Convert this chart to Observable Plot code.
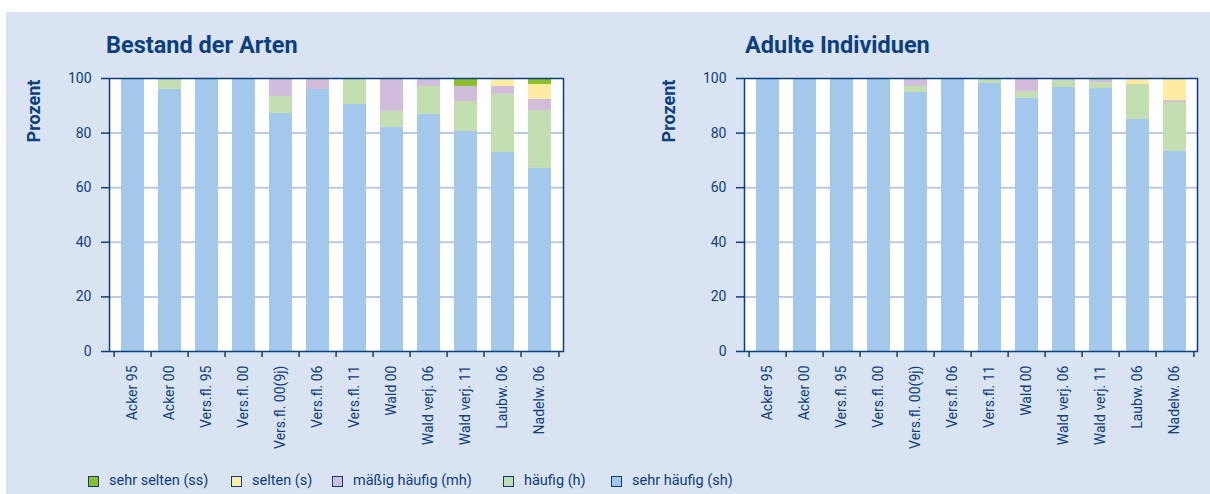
<!DOCTYPE html>
<html>
<head>
<meta charset="utf-8">
<script src="https://cdn.jsdelivr.net/npm/d3@7"></script>
<script src="https://cdn.jsdelivr.net/npm/@observablehq/plot@0.6"></script>
<style>
  html, body { margin: 0; padding: 0; background: #ffffff; width: 1210px; height: 494px; overflow: hidden; }
  body { position: relative; font-family: Roboto, "Open Sans", sans-serif; }
  #panel { position: absolute; left: 6px; top: 12px; width: 1204px; height: 482px; background: #d9e3f1; }
  .title { position: absolute; top: 31px; font-weight: bold; font-size: 23.5px; line-height: 28px; color: #0b3f7e; white-space: nowrap; }
  .chart { position: absolute; top: 0; }
  #legend { position: absolute; left: 88px; top: 471px; font-size: 14.5px; line-height: 20px; color: #0b3f7e; white-space: nowrap; }
  #legend .item { display: flex; align-items: center; position: absolute; top: 0; height: 20px; }
  #legend .sw { width: 9px; height: 9px; border: 1px solid #0b3f7e; margin-right: 10px; box-sizing: content-box; }
</style>
</head>
<body>
<div id="panel"></div>
<div class="title" style="left:106px">Bestand der Arten</div>
<div class="title" style="left:745px">Adulte Individuen</div>
<div class="chart" id="left" style="left:0px"></div>
<div class="chart" id="right" style="left:605px"></div>
<div id="legend"></div>
<script>
// ---- data ----
const categories = ["Acker 95", "Acker 00", "Vers.fl. 95", "Vers.fl. 00", "Vers.fl. 00(9j)", "Vers.fl. 06",
  "Vers.fl. 11", "Wald 00", "Wald verj. 06", "Wald verj. 11", "Laubw. 06", "Nadelw. 06"];

const classKeys = ["ss", "s", "mh", "h", "sh"];
const classLabels = ["sehr selten (ss)", "selten (s)", "mäßig häufig (mh)", "häufig (h)", "sehr häufig (sh)"];
const classColors = ["#8dbf2b", "#ffeca2", "#d2bcdc", "#c3deb0", "#a3c8eb"];
const yTicks = [0, 20, 40, 60, 80, 100];

// Bestand der Arten
const arten_sh = [100, 96, 100, 100, 87.2, 96, 90.5, 82.1, 86.8, 80.6, 72.9, 67.1];
const arten_h  = [0, 4, 0, 0, 6.2, 0, 9.5, 5.9, 10.3, 11.0, 21.3, 21.2];
const arten_mh = [0, 0, 0, 0, 6.6, 4, 0, 12.0, 2.9, 5.5, 2.9, 4.0];
const arten_s  = [0, 0, 0, 0, 0, 0, 0, 0, 0, 0, 2.9, 5.5];
const arten_ss = [0, 0, 0, 0, 0, 0, 0, 0, 0, 2.9, 0, 2.2];

// Adulte Individuen
const adult_sh = [100, 99.7, 100, 100, 94.9, 99.7, 98.2, 92.7, 96.7, 96.3, 85.0, 73.3];
const adult_h  = [0, 0.3, 0, 0, 2.2, 0, 1.8, 2.5, 2.6, 2.2, 12.8, 17.9];
const adult_mh = [0, 0, 0, 0, 2.9, 0.3, 0, 4.8, 0.7, 1.0, 0, 0.7];
const adult_s  = [0, 0, 0, 0, 0, 0, 0, 0, 0, 0, 2.2, 7.7];
const adult_ss = [0, 0, 0, 0, 0, 0, 0, 0, 0, 0.5, 0, 0.4];

function toLong(series) {
  const rows = [];
  const stackOrder = ["sh", "h", "mh", "s", "ss"];
  for (const key of stackOrder) {
    series[key].forEach((v, i) => rows.push({cat: categories[i], cls: key, value: v}));
  }
  return rows;
}

const dark = "#0b3f7e";
const font = "Roboto, 'Open Sans', sans-serif";

function chart(series, marginLeft, marginRight) {
  const width = 605;
  const plotW = width - marginLeft - marginRight;
  const step = plotW / categories.length;
  const data = toLong(series);
  return Plot.plot({
    width,
    height: 460,
    marginLeft,
    marginRight,
    marginTop: 78,
    marginBottom: 109,
    style: {background: "transparent", fontFamily: font, fontSize: "14px", color: dark, overflow: "visible"},
    x: {domain: categories, paddingInner: 0.39, paddingOuter: 0.195, axis: null, label: null},
    y: {domain: [0, 100], axis: null, label: null},
    color: {domain: classKeys, range: classColors},
    marks: [
      Plot.frame({fill: "white", stroke: "none"}),
      Plot.gridY(yTicks.filter(d => d > 0 && d < 100), {stroke: "#bccadf", strokeWidth: 2, strokeOpacity: 1}),
      Plot.barY(data, Plot.stackY({x: "cat", y: "value", fill: "cls", order: ["sh", "h", "mh", "s", "ss"]})),
      Plot.frame({stroke: dark, strokeWidth: 1.5}),
      Plot.axisY(yTicks, {label: null, tickSize: 8, tickPadding: 10, stroke: dark, strokeWidth: 1.5, fill: dark, fontSize: 14}),
      Plot.axisX({label: null, tickSize: 0, tickPadding: 14, tickRotate: -90, fill: dark, fontSize: 14}),
      Plot.axisX({label: null, tickSize: 6, fill: "none", stroke: dark, strokeWidth: 1.5, dx: -step / 2}),
      Plot.axisX([categories[categories.length - 1]], {label: null, tickSize: 6, fill: "none", stroke: dark, strokeWidth: 1.5, dx: step / 2}),
      Plot.text(["Prozent"], {frameAnchor: "left", textAnchor: "middle", rotate: -90, dx: -75, dy: -104, text: d => d, fill: dark, fontWeight: "bold", fontSize: 18})
    ]
  });
}

document.getElementById("left").append(chart({sh: arten_sh, h: arten_h, mh: arten_mh, s: arten_s, ss: arten_ss}, 109, 42));
document.getElementById("right").append(chart({sh: adult_sh, h: adult_h, mh: adult_mh, s: adult_s, ss: adult_ss}, 139, 13));

// legend
const legend = document.getElementById("legend");
const legendX = [0, 143, 244, 415, 523];
classKeys.forEach((k, i) => {
  const item = document.createElement("div");
  item.className = "item";
  item.style.left = legendX[i] + "px";
  const sw = document.createElement("div");
  sw.className = "sw";
  sw.style.background = classColors[i];
  const t = document.createElement("span");
  t.textContent = classLabels[i];
  item.append(sw, t);
  legend.append(item);
});
</script>
</body>
</html>
